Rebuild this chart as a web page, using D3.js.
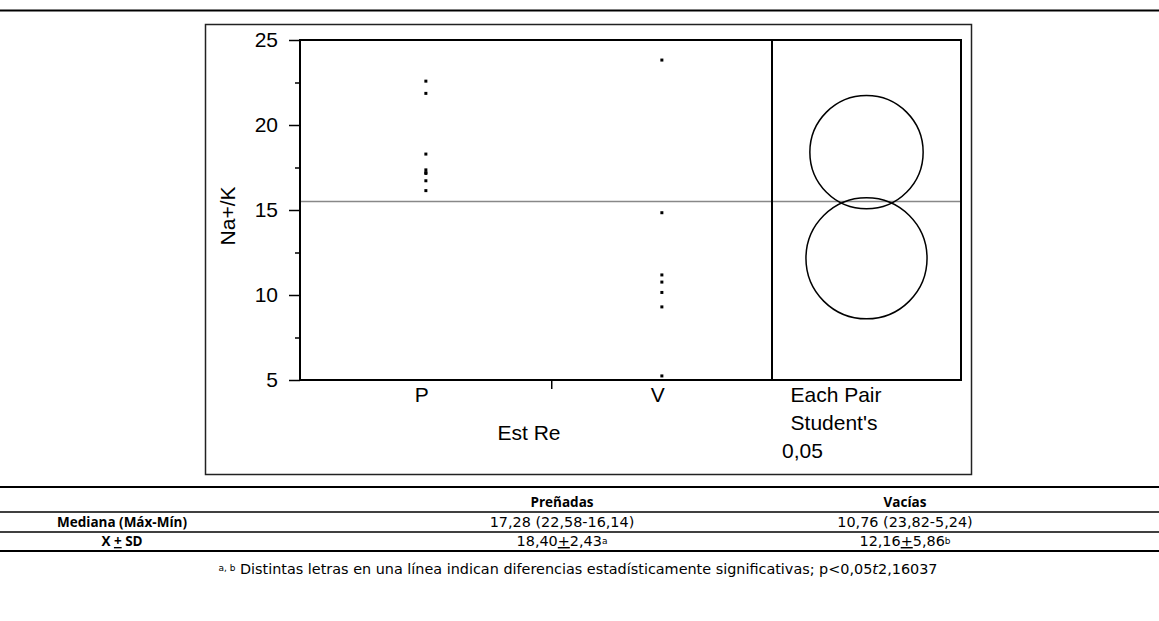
<!DOCTYPE html>
<html>
<head>
<meta charset="utf-8">
<script src="https://cdn.jsdelivr.net/npm/d3@7"></script>
<style>
	body { margin: 0; background: #fff; }
	svg { display: block; }
	.plot-text { font-family: "Liberation Sans", Arial, sans-serif; font-size: 21px; fill: #000; }
	.tbl { font-family: "DejaVu Sans", sans-serif; font-size: 14.4px; fill: #000; }
	.tbl-b { font-family: "Open Sans", sans-serif; font-weight: bold; font-size: 13.5px; }
</style>
</head>
<body>
<div id="chart"></div>
<script>
// Data
const groups = ["P", "V"];
const valuesP = [22.58, 21.86, 18.29, 17.36, 17.2, 17.15, 16.72, 16.14];
const valuesV = [23.82, 14.84, 11.18, 10.76, 10.15, 9.3, 5.24];
const groupMeans = [18.40, 12.16];
const groupSds = [2.43, 5.86];
const tValue = 2.16037;
const yTicks = [5, 10, 15, 20, 25];
const yMinorTicks = [7.5, 12.5, 17.5, 22.5];

const tableHeader = ["", "Preñadas", "Vacías"];
const rowLabels = ["Mediana (Máx-Mín)", "X + SD"];
const medianCol = ["17,28 (22,58-16,14)", "10,76 (23,82-5,24)"];
const meanCol = [["18,40", "2,43", "a"], ["12,16", "5,86", "b"]];

const W = 1159, H = 621;
const svg = d3.select("#chart")
	.append("svg")
	.attr("width", W)
	.attr("height", H);

svg.append("rect").attr("width", W).attr("height", H).attr("fill", "#fff");

// top rule
svg.append("line")
	.attr("x1", 0).attr("x2", W)
	.attr("y1", 10.5).attr("y2", 10.5)
	.attr("stroke", "#000").attr("stroke-width", 2);

// outer frame
svg.append("rect")
	.attr("x", 205.5).attr("y", 24.5)
	.attr("width", 766).attr("height", 450)
	.attr("fill", "none")
	.attr("stroke", "#222").attr("stroke-width", 1.5);

const plot = { left: 300, right: 961, top: 40, bottom: 380, split: 772 };

// Y axis
const y = d3.scaleLinear()
	.domain([5, 25])
	.range([plot.bottom, plot.top]);

// X: group widths proportional to group size
const counts = [valuesP.length, valuesV.length];
const total = d3.sum(counts);
const x = d3.scaleLinear()
	.domain([0, total])
	.range([plot.left, plot.split]);
const bounds = [0, counts[0], total];
const centers = groups.map((g, i) => x((bounds[i] + bounds[i + 1]) / 2));

svg.append("g")
	.attr("transform", `translate(${plot.left},0)`)
	.call(d3.axisLeft(y).tickValues(yTicks).tickSize(11).tickPadding(11).tickFormat(d3.format("d")))
	.call(g => g.select(".domain").remove())
	.call(g => g.selectAll("line").attr("stroke-width", 1.5))
	.call(g => g.selectAll("text").attr("class", "plot-text").attr("font-size", null).attr("font-family", null));

svg.append("g")
	.attr("transform", `translate(${plot.left},0)`)
	.call(d3.axisLeft(y).tickValues(yMinorTicks).tickSize(5).tickFormat(""))
	.call(g => g.select(".domain").remove())
	.call(g => g.selectAll("line").attr("stroke-width", 1.5));

// tick between groups
svg.append("line")
	.attr("x1", x(counts[0])).attr("x2", x(counts[0]))
	.attr("y1", plot.bottom).attr("y2", plot.bottom + 9)
	.attr("stroke", "#000").attr("stroke-width", 1.5);

// grand mean
const allValues = valuesP.concat(valuesV);
const grandMean = d3.mean(allValues);
svg.append("line")
	.attr("x1", plot.left).attr("x2", plot.right)
	.attr("y1", y(grandMean)).attr("y2", y(grandMean))
	.attr("stroke", "#888").attr("stroke-width", 1.5);

// points
[valuesP, valuesV].forEach((vals, i) => {
	svg.selectAll(null)
		.data(vals)
		.enter()
		.append("rect")
		.attr("x", centers[i] - 1.5)
		.attr("y", d => y(d) - 1.5)
		.attr("width", 3)
		.attr("height", 3)
		.attr("fill", "#000");
});

// comparison circles (Student's t, pooled sd)
const df = total - groups.length;
const pooledSd = Math.sqrt(d3.sum(groupSds.map((s, i) => (counts[i] - 1) * s * s)) / df);
const circleX = (plot.split + plot.right) / 2;
groupMeans.forEach((m, i) => {
	const r = tValue * pooledSd / Math.sqrt(counts[i]);
	svg.append("circle")
		.attr("cx", circleX)
		.attr("cy", y(m))
		.attr("r", y(m - r) - y(m))
		.attr("fill", "none")
		.attr("stroke", "#000")
		.attr("stroke-width", 1.5);
});

// plot frame and divider
svg.append("rect")
	.attr("x", plot.left).attr("y", plot.top)
	.attr("width", plot.right - plot.left).attr("height", plot.bottom - plot.top)
	.attr("fill", "none").attr("stroke", "#000").attr("stroke-width", 2);
svg.append("line")
	.attr("x1", plot.split).attr("x2", plot.split)
	.attr("y1", plot.top).attr("y2", plot.bottom)
	.attr("stroke", "#000").attr("stroke-width", 2);

// category labels
groups.forEach((g, i) => {
	svg.append("text")
		.attr("class", "plot-text")
		.attr("x", centers[i] - 4)
		.attr("y", 402)
		.attr("text-anchor", "middle")
		.text(g);
});

svg.append("text")
	.attr("class", "plot-text")
	.attr("x", 529).attr("y", 440)
	.attr("text-anchor", "middle")
	.text("Est Re");

svg.append("text")
	.attr("class", "plot-text")
	.attr("transform", "translate(235,216) rotate(-90)")
	.attr("text-anchor", "middle")
	.text("Na+/K");

svg.append("text").attr("class", "plot-text")
	.attr("x", 836).attr("y", 402).attr("text-anchor", "middle").text("Each Pair");
svg.append("text").attr("class", "plot-text")
	.attr("x", 834).attr("y", 430).attr("text-anchor", "middle").text("Student's");
svg.append("text").attr("class", "plot-text")
	.attr("x", 782).attr("y", 458).text("0,05");

// Table
const colX = [122, 562, 905];
const rules = [
	{ y: 487, w: 2 },
	{ y: 512, w: 1.5 },
	{ y: 532, w: 1.5 },
	{ y: 551, w: 2 }
];
rules.forEach(r => {
	svg.append("line")
		.attr("x1", 0).attr("x2", W)
		.attr("y1", r.y).attr("y2", r.y)
		.attr("stroke", "#000").attr("stroke-width", r.w);
});

tableHeader.forEach((h, i) => {
	svg.append("text")
		.attr("class", "tbl tbl-b")
		.attr("x", colX[i]).attr("y", 507)
		.attr("text-anchor", "middle")
		.text(h);
});

const rowY = [527, 546];
rowLabels.forEach((lab, i) => {
	const t = svg.append("text")
		.attr("class", "tbl tbl-b")
		.attr("x", colX[0]).attr("y", rowY[i])
		.attr("text-anchor", "middle");
	if (lab.includes("+")) {
		const parts = lab.split("+");
		t.append("tspan").text(parts[0]);
		t.append("tspan").attr("text-decoration", "underline").text("+");
		t.append("tspan").text(parts[1]);
	} else {
		t.text(lab);
	}
});

medianCol.forEach((v, i) => {
	svg.append("text")
		.attr("class", "tbl")
		.attr("x", colX[i + 1]).attr("y", rowY[0])
		.attr("text-anchor", "middle")
		.text(v);
});

meanCol.forEach((v, i) => {
	const t = svg.append("text")
		.attr("class", "tbl")
		.attr("x", colX[i + 1]).attr("y", rowY[1])
		.attr("text-anchor", "middle");
	t.append("tspan").text(v[0]);
	t.append("tspan").attr("text-decoration", "underline").text("+");
	t.append("tspan").text(v[1]);
	t.append("tspan").attr("font-size", "9px").attr("dy", -2).text(v[2]);
});

const foot = svg.append("text")
	.attr("class", "tbl")
	.attr("x", 578).attr("y", 574)
	.attr("text-anchor", "middle");
foot.append("tspan").attr("font-size", "9px").attr("dy", -3).text("a, b");
foot.append("tspan").attr("dy", 3).text(" Distintas letras en una línea indican diferencias estadísticamente significativas; p<0,05");
foot.append("tspan").attr("font-style", "italic").text("t");
foot.append("tspan").text("2,16037");
</script>
</body>
</html>
